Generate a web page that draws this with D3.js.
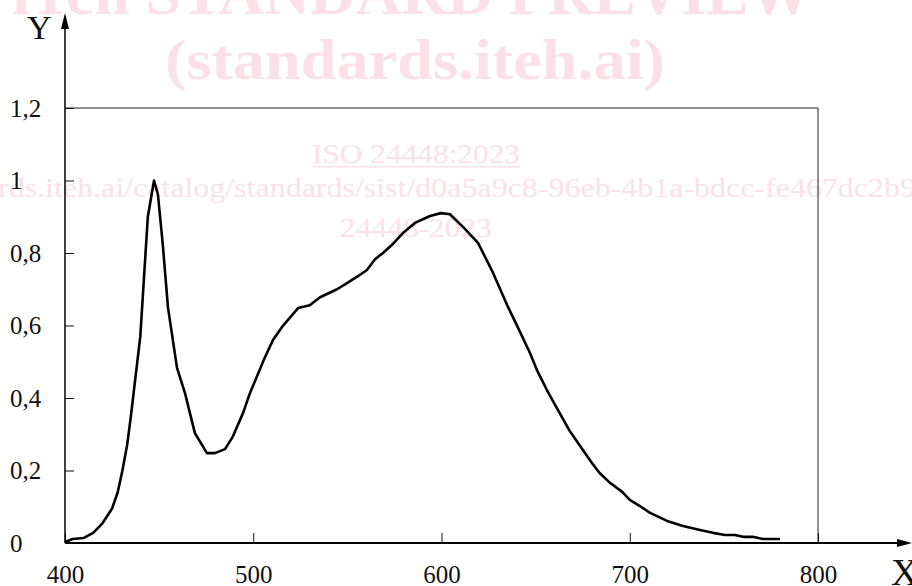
<!DOCTYPE html>
<html><head><meta charset="utf-8">
<script src="https://cdn.jsdelivr.net/npm/d3@7"></script>
<style>html,body{margin:0;padding:0;background:#fff;}svg{display:block;}</style>
</head><body>
<svg id="chart" width="912" height="586"></svg>
<script>
const wavelengths = [400,404,410,415,420,425,428,430.5,433,435,440,444,447.3,449.4,452,454.7,459.5,463.7,469,475.4,479.7,485,489,494.6,498.3,502,506,510.5,515.3,523.8,530,535.5,544.5,549.8,555.6,560.4,564.7,568.9,574.2,579.5,585.9,593.9,599.7,604.5,611.4,619.4,627.4,634.8,640,647,650.7,656,661,668,674,680,684,689.5,696,700,705.4,710.8,719.8,728.3,737.3,744.2,750.6,755.9,760.1,765.4,770.7,779.8];
const intensity = [0.003,0.011,0.014,0.028,0.055,0.095,0.14,0.2,0.27,0.35,0.57,0.9,1.0,0.96,0.82,0.65,0.483,0.414,0.303,0.248,0.248,0.259,0.292,0.359,0.414,0.46,0.51,0.56,0.596,0.648,0.656,0.678,0.700,0.717,0.736,0.753,0.783,0.800,0.825,0.855,0.883,0.902,0.910,0.907,0.872,0.828,0.745,0.657,0.601,0.524,0.477,0.422,0.375,0.31,0.265,0.22,0.193,0.166,0.141,0.119,0.102,0.083,0.061,0.047,0.036,0.028,0.022,0.022,0.017,0.017,0.011,0.011];
const xTicks = [400,500,600,700,800];
const yTicks = [0,0.2,0.4,0.6,0.8,1.0,1.2];
const xLabel = "X", yLabel = "Y";
const watermark = ["iTeh STANDARD PREVIEW","(standards.iteh.ai)","ISO 24448:2023","rds.iteh.ai/catalog/standards/sist/d0a5a9c8-96eb-4b1a-bdcc-fe467dc2b9","24448-2023"];

const svg = d3.select("#chart");
const serif = "'Liberation Serif','DejaVu Serif',serif";
const pink = "#fbe0e8";

// watermark
const wm = svg.append("g").attr("fill", pink).attr("font-family", serif);
wm.append("text").attr("x",12).attr("y",14).attr("font-size",62).attr("font-weight","bold")
  .attr("textLength",800).attr("lengthAdjust","spacingAndGlyphs").text(watermark[0]);
wm.append("text").attr("x",165).attr("y",79).attr("font-size",56).attr("font-weight","bold")
  .attr("textLength",500).attr("lengthAdjust","spacingAndGlyphs").text(watermark[1]);
wm.append("text").attr("x",312).attr("y",163).attr("font-size",28)
  .attr("textLength",208).attr("lengthAdjust","spacingAndGlyphs").text(watermark[2]);
wm.append("rect").attr("x",312).attr("y",166).attr("width",208).attr("height",1.5);
wm.append("text").attr("x",-2).attr("y",197).attr("font-size",28)
  .attr("textLength",918).attr("lengthAdjust","spacingAndGlyphs").text(watermark[3]);
wm.append("text").attr("x",340).attr("y",237).attr("font-size",28)
  .attr("textLength",152).attr("lengthAdjust","spacingAndGlyphs").text(watermark[4]);

const x = d3.scaleLinear().domain([400,800]).range([65,818]);
const y = d3.scaleLinear().domain([0,1.2]).range([543,108]);

// frame
svg.append("line").attr("x1",x(400)).attr("x2",x(800)).attr("y1",y(1.2)).attr("y2",y(1.2)).attr("stroke","#222").attr("stroke-width",1);
svg.append("line").attr("x1",x(800)).attr("x2",x(800)).attr("y1",y(1.2)).attr("y2",y(0)).attr("stroke","#222").attr("stroke-width",1);

// x axis
const fmtY = d => String(+d.toFixed(1)).replace(".", ",");
const gx = svg.append("g").attr("transform",`translate(0,${y(0)})`)
  .call(d3.axisBottom(x).tickValues(xTicks).tickSizeInner(-10).tickSizeOuter(0).tickPadding(22).tickFormat(d3.format("d")));
gx.select(".domain").remove();
gx.selectAll(".tick line").attr("stroke","#111").attr("stroke-width",1);
gx.selectAll(".tick text").attr("font-family",serif).attr("font-size",25).attr("fill","#111");

const gy = svg.append("g").attr("transform",`translate(${x(400)},0)`)
  .call(d3.axisLeft(y).tickValues(yTicks).tickSizeInner(-9).tickSizeOuter(0).tickFormat(fmtY));
gy.select(".domain").remove();
gy.selectAll(".tick line").attr("stroke","#111").attr("stroke-width",1);
gy.selectAll(".tick text").attr("font-family",serif).attr("font-size",25).attr("fill","#111")
  .attr("text-anchor","start").attr("x",-55);

// axis lines with arrows
svg.append("line").attr("x1",x(400)).attr("x2",905).attr("y1",y(0)).attr("y2",y(0)).attr("stroke","#000").attr("stroke-width",1.8);
svg.append("path").attr("d",`M912,${y(0)} L897,${y(0)-4} L897,${y(0)+4} Z`).attr("fill","#000");
svg.append("line").attr("x1",x(400)).attr("x2",x(400)).attr("y1",y(0)).attr("y2",22).attr("stroke","#000").attr("stroke-width",1.5);
svg.append("path").attr("d",`M${x(400)},13 L${x(400)-4},29 L${x(400)+4},29 Z`).attr("fill","#000");

svg.append("text").attr("x",27).attr("y",39).attr("font-family",serif).attr("font-size",34).attr("fill","#111").text(yLabel);
svg.append("text").attr("x",891).attr("y",585).attr("font-family",serif).attr("font-size",38).attr("fill","#111").text(xLabel);

// curve
const data = wavelengths.map((w,i)=>({w, v: intensity[i]}));
svg.append("path").datum(data)
  .attr("d", d3.line().x(d=>x(d.w)).y(d=>y(d.v)))
  .attr("fill","none").attr("stroke","#000").attr("stroke-width",2.6).attr("stroke-linejoin","round");
</script>
</body></html>
